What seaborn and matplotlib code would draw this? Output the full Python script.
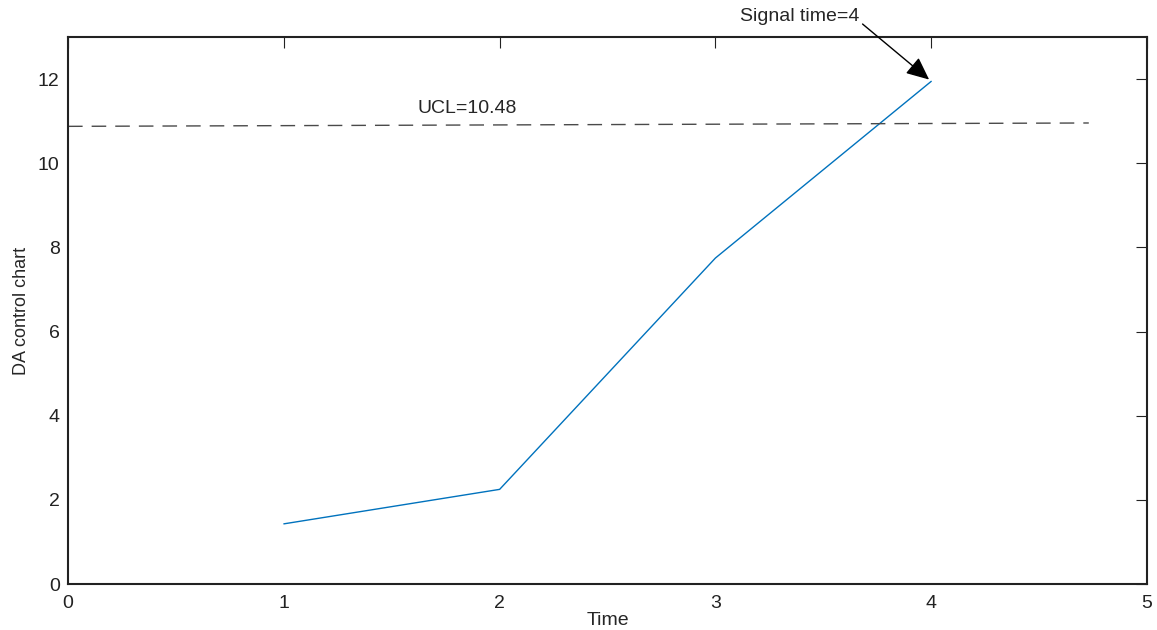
import numpy as np
import pandas as pd
import matplotlib
matplotlib.use("Agg")
import matplotlib.pyplot as plt
import seaborn as sns

# chart values
time_points = [1, 2, 3, 4]
da_values = [1.43, 2.25, 7.75, 11.95]
ucl_x = [0.0, 4.73]
ucl_y = [10.88, 10.96]
signal_time = 4

sns.set_theme(style="white")
plt.rcParams["font.family"] = ["Liberation Sans", "DejaVu Sans"]

fig = plt.figure(figsize=(11.57, 6.3), dpi=100)
ax = fig.add_axes([0.0588, 0.073, 0.9326, 0.868])

df = pd.DataFrame({"Time": time_points, "DA": da_values})
sns.lineplot(data=df, x="Time", y="DA", ax=ax, color="#0072BD", linewidth=1.0)
ax.plot(ucl_x, ucl_y, linestyle=(0, (10.5, 6.5)), color="#4a4a4a", linewidth=1.0)

ax.set_xlim(0, 5)
ax.set_ylim(0, 13)
ax.set_xticks(range(0, 6))
ax.set_yticks(range(0, 13, 2))
ax.tick_params(direction="in", length=8, width=0.8, labelsize=14, colors="#222222",
               top=True, right=True, labeltop=False, labelright=False, pad=6)
ax.tick_params(axis="x", pad=8)
for s in ax.spines.values():
    s.set_color("#222222")
    s.set_linewidth(1.5)

ax.set_xlabel("Time", fontsize=14, labelpad=0)
ax.set_ylabel("DA control chart", fontsize=13, labelpad=6)

ax.text(1.85, 11.1, "UCL=10.48", fontsize=14, ha="center", va="bottom")
ax.annotate("Signal time=4", xy=(signal_time, da_values[-1]), xytext=(3.39, 13.3),
            fontsize=14, ha="center", va="bottom", annotation_clip=False,
            arrowprops=dict(arrowstyle="-|>,head_length=1.0,head_width=0.45",
                            color="black", lw=1.0, shrinkA=0, shrinkB=2,
                            relpos=(0.99, 0.25)))

fig.savefig("out.png", dpi=100)
